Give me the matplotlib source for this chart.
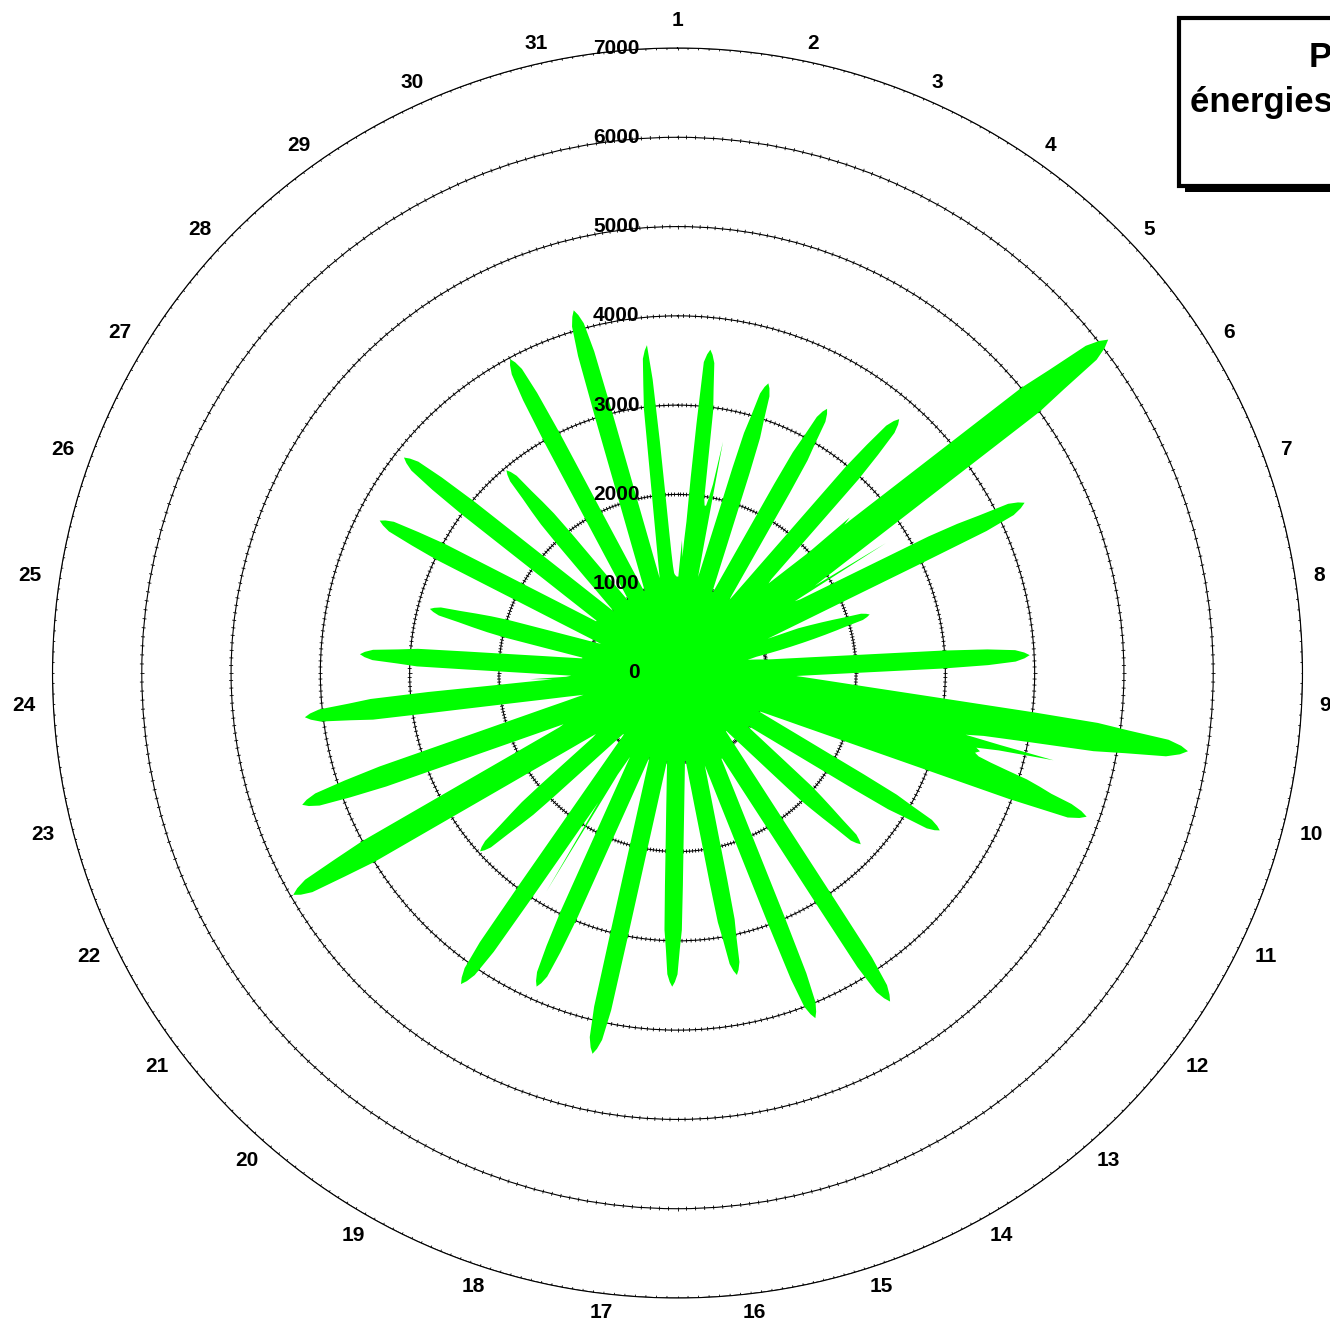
import numpy as np
import matplotlib
matplotlib.use("Agg")
import matplotlib.pyplot as plt
import matplotlib.patches as phs
import matplotlib.transforms as mtrans
from matplotlib.collections import LineCollection

plt.rcParams['font.family'] = ['Liberation Sans', 'DejaVu Sans']

# hourly production (0h..23h) for each day of the month
day01 = [1080, 1080, 1190, 1320, 1490, 1300, 1500, 1700, 2200, 2800, 3495, 3585, 3640, 3585, 3495, 3200, 2970, 2380, 1980, 1900, 1900, 2000, 2150, 2640]
day02 = [1500, 1100, 1190, 1320, 1490, 1700, 1980, 2380, 2790, 2990, 3265, 3350, 3400, 3350, 3265, 2990, 2790, 2380, 1980, 1700, 1490, 1320, 1190, 1080]
day03 = [990, 990, 1080, 1190, 1320, 1490, 1700, 1980, 2380, 2790, 2990, 3265, 3350, 3400, 3350, 3265, 2990, 2790, 2380, 1980, 1700, 1490, 1320, 1190]
day04 = [1080, 1000, 1080, 1190, 1320, 1490, 1700, 1980, 2380, 2975, 3320, 3625, 3720, 3775, 3720, 3625, 3320, 2975, 2380, 1980, 1700, 1490, 1430, 1540]
day05 = [1670, 1820, 2000, 2600, 2500, 2860, 3330, 4000, 5000, 5370, 5860, 6010, 6100, 6010, 5860, 5370, 5000, 4000, 3330, 2860, 2500, 2220, 2000, 1820]
day06 = [2750, 1540, 1600, 1780, 2000, 2290, 2670, 3200, 3550, 3810, 4160, 4265, 4330, 4265, 4160, 3810, 2975, 2380, 1980, 1700, 1490, 1320, 1190, 1080]
day07 = [1440, 1575, 1710, 1845, 1980, 2160, 2215, 2250, 2215, 2160, 1980, 1845, 1710, 1575, 1440, 1305, 1170, 1035, 900, 850, 800, 850, 900, 950]
day08 = [1000, 1080, 1190, 1320, 1490, 1700, 1980, 2380, 2975, 3480, 3790, 3890, 3950, 3890, 3790, 3480, 2975, 2380, 1980, 1700, 1490, 1330, 1430, 1540]
day09 = [1670, 1820, 2000, 2220, 2500, 2860, 3330, 4000, 4740, 5090, 5550, 5700, 5784, 5700, 5550, 5090, 4740, 4000, 3500, 3300, 3700, 4325, 3700, 3450]
day10 = [3500, 3450, 3500, 3650, 3850, 4090, 4250, 4400, 4650, 4780, 4857, 4785, 4660, 3970, 2975, 2380, 1980, 1700, 1490, 1320, 1190, 1080, 1000, 1080]
day11 = [1190, 1320, 1490, 1700, 1980, 2380, 2810, 3015, 3290, 3375, 3426, 3375, 3290, 3015, 2810, 2380, 1980, 1700, 1490, 1320, 1190, 1080, 1000, 1000]
day12 = [1080, 1190, 1320, 1490, 1700, 1970, 2135, 2300, 2470, 2700, 2765, 2809, 2765, 2700, 2470, 2300, 2135, 1970, 1700, 1490, 1320, 1190, 1080, 1000]
day13 = [920, 850, 850, 915, 990, 1080, 1190, 1320, 1490, 1700, 1980, 2380, 2975, 3860, 4210, 4315, 4383, 4315, 4210, 3860, 2975, 2380, 1980, 1700]
day14 = [1490, 1320, 1190, 1080, 1080, 1190, 1320, 1490, 1700, 1980, 2380, 2975, 3660, 4000, 4100, 4163, 4100, 4000, 3660, 2975, 2380, 1980, 1700, 1490]
day15 = [1320, 1190, 1080, 1190, 1320, 1490, 1700, 1980, 2380, 2830, 3030, 3310, 3395, 3447, 3395, 3310, 3030, 2830, 2380, 1980, 1700, 1490, 1320, 1190]
day16 = [1080, 990, 990, 1080, 1190, 1320, 1490, 1700, 1980, 2380, 2880, 3090, 3375, 3460, 3514, 3460, 3375, 3090, 2880, 2380, 1980, 1700, 1490, 1320]
day17 = [1190, 1080, 990, 1080, 1190, 1320, 1490, 1700, 1980, 2380, 2975, 3850, 4195, 4305, 4370, 4305, 4195, 3850, 2975, 2380, 1980, 1700, 1490, 1320]
day18 = [1190, 1080, 990, 1080, 1190, 1320, 1490, 1700, 1980, 2380, 2975, 3390, 3700, 3795, 3851, 3795, 3700, 3390, 2975, 2380, 1980, 1700, 1490, 1320]
day19 = [1190, 1080, 1190, 1320, 2854, 1700, 1980, 2380, 2975, 3740, 4075, 4180, 4245, 4180, 4075, 3740, 2975, 2380, 1980, 1700, 1490, 1320, 1190, 1080]
day20 = [990, 915, 915, 990, 1080, 1190, 1320, 1490, 1700, 1980, 2265, 2440, 2620, 2860, 2935, 2980, 2935, 2860, 2620, 2440, 2265, 1980, 1700, 1490]
day21 = [1320, 1190, 1140, 1230, 1330, 1455, 1600, 1780, 2000, 2290, 2670, 3200, 4000, 4370, 4770, 4895, 4970, 4895, 4770, 4370, 4000, 3200, 2670, 2290]
day22 = [2000, 1780, 1600, 1455, 1400, 1560, 1750, 2000, 2330, 2800, 3500, 3920, 4275, 4390, 4455, 4390, 4275, 3920, 3500, 2800, 2330, 2000, 1750, 1560]
day23 = [1400, 1270, 1170, 1080, 1170, 1270, 1400, 1560, 1750, 2000, 2330, 2800, 3450, 3700, 4035, 4140, 4203, 4140, 4035, 3700, 3450, 2800, 2100, 1700]
day24 = [1400, 1653, 1250, 1190, 1320, 1490, 1700, 1980, 2380, 2920, 3135, 3420, 3510, 3563, 3510, 3420, 3135, 2920, 2380, 1980, 1700, 1490, 1320, 1190]
day25 = [1080, 1080, 1190, 1320, 1490, 1700, 1980, 2180, 2350, 2520, 2750, 2820, 2865, 2820, 2750, 2520, 2350, 2180, 1980, 1700, 1490, 1320, 1190, 1080]
day26 = [990, 915, 990, 1080, 1190, 1320, 1490, 1700, 1980, 2380, 2975, 3300, 3600, 3690, 3747, 3690, 3600, 3300, 2975, 2380, 1980, 1700, 1490, 1320]
day27 = [1190, 1080, 1080, 1190, 1320, 1490, 1700, 1980, 2380, 2975, 3430, 3745, 3840, 3900, 3840, 3745, 3430, 2975, 2380, 1980, 1700, 1490, 1320, 1190]
day28 = [1080, 990, 1080, 1190, 1320, 1490, 1700, 1980, 2260, 2440, 2610, 2850, 2925, 2971, 2925, 2850, 2610, 2440, 2260, 1980, 1700, 1490, 1320, 1190]
day29 = [1080, 990, 990, 1080, 1190, 1320, 1490, 1700, 1980, 2380, 2975, 3510, 3825, 3925, 3984, 3925, 3825, 3510, 2975, 2380, 1980, 1700, 1490, 1320]
day30 = [1190, 1080, 990, 990, 1080, 1190, 1320, 1490, 1700, 1980, 2380, 2975, 3720, 4055, 4160, 4225, 4160, 4055, 3720, 2975, 2380, 1980, 1700, 1490]
day31 = [1320, 1190, 1080, 1190, 1320, 1490, 1700, 1980, 2380, 2975, 3245, 3540, 3630, 3688, 3300, 2600, 2000, 1600, 1350, 1200, 1120, 1100, 1090, 1080]

days_data = [day01, day02, day03, day04, day05, day06, day07, day08, day09, day10,
             day11, day12, day13, day14, day15, day16, day17, day18, day19, day20,
             day21, day22, day23, day24, day25, day26, day27, day28, day29, day30, day31]
day_labels = [str(d) for d in range(1, 32)]
ring_values = [1000, 2000, 3000, 4000, 5000, 6000, 7000]
rlabel_values = [0, 1000, 2000, 3000, 4000, 5000, 6000, 7000]
title_text = "Production\nénergies photovoltaïques"

nDays = len(days_data)
production = np.concatenate(days_data)
theta = np.arange(len(production)) * 2*np.pi / len(production)

W, H = 1330, 1326
fig = plt.figure(figsize=(W/100, H/100), dpi=100)
ax = fig.add_axes([52.5/W, (H-673-625)/H, 1250/W, 1250/H], projection="polar")
ax.set_theta_zero_location("N")
ax.set_theta_direction(-1)
ax.set_ylim(0, 7000)
ax.set_axisbelow(True)

ax.fill(theta, production, color="#00ff00", lw=0, zorder=3)

# rings
ax.set_xticks([])
ax.set_yticks(ring_values)
ax.set_yticklabels([])
ax.yaxis.grid(True, color="k", lw=0.8)
ax.xaxis.grid(False)
ax.spines["polar"].set_linewidth(0.8)
ax.tick_params(axis="y", length=0)

# small tick marks along the rings (2 hour steps)
tickTheta = np.arange(nDays*12) * 2*np.pi / (nDays*12)
segs = []
for rv in ring_values:
  for tt in tickTheta:
    segs.append([(tt, rv-22), (tt, rv+22)])
ax.add_collection(LineCollection(segs, colors="k", linewidths=0.6, zorder=1))

# day labels: left-aligned on the right half, right-aligned on the left half
dayTheta = np.arange(nDays) * 2*np.pi / nDays
for tt, lab in zip(dayTheta, day_labels):
  s = np.round(np.sin(tt), 6)
  if s > 0:
    ha, va = "left", "center"
  elif s < 0:
    ha, va = "right", "center"
  else:
    ha, va = "center", "bottom"
  ax.text(tt, 7202, lab, ha=ha, va=va, fontsize=15, fontweight="bold", clip_on=False)

# radial labels, left of the vertical axis
trans = mtrans.offset_copy(ax.transData, fig=fig, x=-38, y=0, units="dots")
for rv in rlabel_values:
  ax.text(0, rv, str(rv), transform=trans, ha="right", va="center", fontsize=15, fontweight="bold", zorder=6)

# title box with shadow (cut by the right edge)
shadow = phs.Rectangle((1185/W, 1-192/H), 200/W, 168/H, transform=fig.transFigure, facecolor="k", edgecolor="none", zorder=10)
box = phs.Rectangle((1179/W, 1-186/H), 200/W, 168/H, transform=fig.transFigure, facecolor="white", edgecolor="k", lw=3.0, zorder=11)
fig.patches.append(shadow)
fig.patches.append(box)
fig.text(1400/W, 1-41/H, title_text, ha="center", va="top", multialignment="center", fontsize=25, fontweight="bold", linespacing=1.45, zorder=12)

fig.savefig("out.png", dpi=100)
